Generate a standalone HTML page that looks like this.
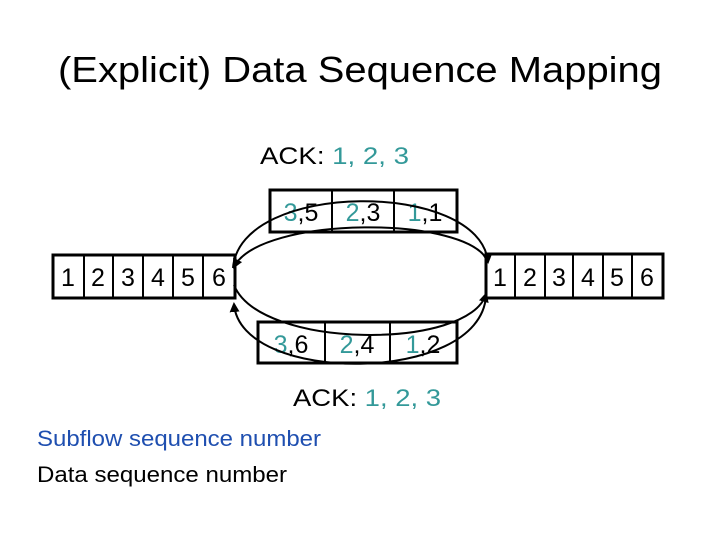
<!DOCTYPE html>
<html><head><style>
body{margin:0;background:#fff;width:720px;height:540px;overflow:hidden}
text{font-family:"Liberation Sans",Arial,sans-serif}
</style></head><body>
<svg width="720" height="540" viewBox="0 0 720 540">
<defs><marker id="a" markerWidth="10" markerHeight="10" refX="8" refY="5" orient="auto" markerUnits="userSpaceOnUse"><path d="M0,0 L10,5 L0,10 z" fill="#000"/></marker></defs>
<text x="58" y="82" font-size="36" textLength="604" lengthAdjust="spacingAndGlyphs">(Explicit) Data Sequence Mapping</text>
<text x="260" y="164" font-size="24" textLength="149" lengthAdjust="spacingAndGlyphs">ACK: <tspan fill="#339999">1, 2, 3</tspan></text>
<text x="293" y="406" font-size="24" textLength="148" lengthAdjust="spacingAndGlyphs">ACK: <tspan fill="#339999">1, 2, 3</tspan></text>
<text x="37" y="446" font-size="22" fill="#1f4fb0" textLength="284" lengthAdjust="spacingAndGlyphs">Subflow sequence number</text>
<text x="37" y="482" font-size="22" textLength="250" lengthAdjust="spacingAndGlyphs">Data sequence number</text>
<g fill="none" stroke="#000" stroke-width="3">
<rect x="53" y="255" width="182" height="43"/>
<rect x="486" y="254" width="177" height="44"/>
<rect x="270" y="190" width="187" height="42"/>
<rect x="258" y="322" width="199" height="41"/>
</g>
<g stroke="#000" stroke-width="2">
<line x1="84" y1="255" x2="84" y2="298"/><line x1="113" y1="255" x2="113" y2="298"/><line x1="143" y1="255" x2="143" y2="298"/><line x1="173" y1="255" x2="173" y2="298"/><line x1="203" y1="255" x2="203" y2="298"/>
<line x1="515" y1="254" x2="515" y2="298"/><line x1="545" y1="254" x2="545" y2="298"/><line x1="573" y1="254" x2="573" y2="298"/><line x1="603" y1="254" x2="603" y2="298"/><line x1="632" y1="254" x2="632" y2="298"/>
<line x1="332" y1="190" x2="332" y2="232"/><line x1="394" y1="190" x2="394" y2="232"/>
<line x1="325" y1="322" x2="325" y2="363"/><line x1="390" y1="322" x2="390" y2="363"/>
</g>
<g font-size="25" text-anchor="middle">
<text x="68" y="286">1</text><text x="98" y="286">2</text><text x="128" y="286">3</text><text x="158" y="286">4</text><text x="188" y="286">5</text><text x="219" y="286">6</text>
<text x="500" y="286">1</text><text x="530" y="286">2</text><text x="559" y="286">3</text><text x="588" y="286">4</text><text x="617" y="286">5</text><text x="647" y="286">6</text>
<text x="301" y="221"><tspan fill="#339999">3</tspan>,5</text>
<text x="363" y="221"><tspan fill="#339999">2</tspan>,3</text>
<text x="425" y="221"><tspan fill="#339999">1</tspan>,1</text>
<text x="291" y="353"><tspan fill="#339999">3</tspan>,6</text>
<text x="357" y="353"><tspan fill="#339999">2</tspan>,4</text>
<text x="423" y="353"><tspan fill="#339999">1</tspan>,2</text>
</g>
<g fill="none" stroke="#000" stroke-width="2">
<path d="M233,268 C240,180 480,180 488,262" marker-end="url(#a)"/>
<path d="M488,262 C470,215 260,215 234,267" marker-end="url(#a)"/>
<path d="M234,285 C260,350 470,350 486,294" marker-end="url(#a)"/>
<path d="M486,296 C480,385 240,385 234,304" marker-end="url(#a)"/>
</g>
</svg>
</body></html>
